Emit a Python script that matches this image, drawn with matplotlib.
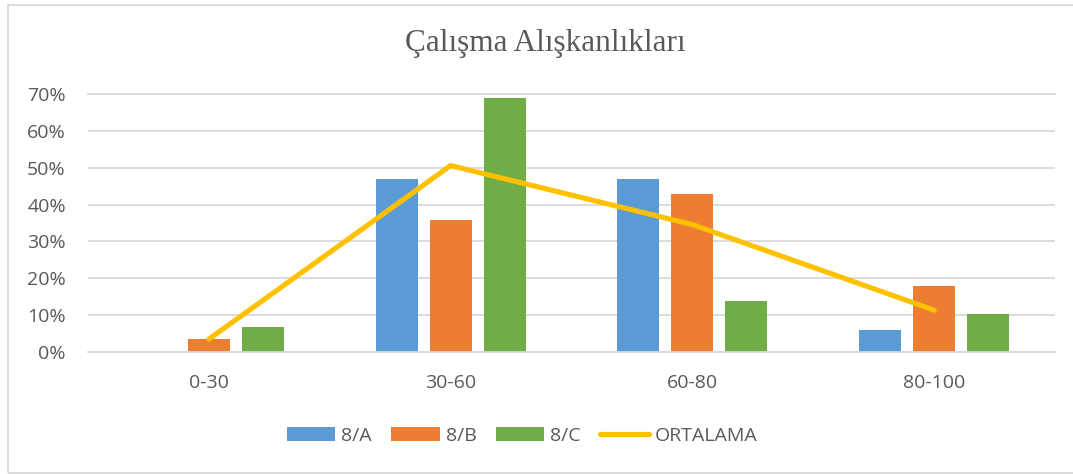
import numpy as np
import matplotlib.pyplot as plt
from matplotlib.patches import Rectangle

plt.rcParams['font.family'] = ['Open Sans', 'DejaVu Sans']

categories = ['0-30', '30-60', '60-80', '80-100']
sinif_a = [0.0, 0.4706, 0.4706, 0.0588]
sinif_b = [0.0357, 0.3571, 0.4286, 0.1786]
sinif_c = [0.0690, 0.6897, 0.1379, 0.1034]
ortalama = [0.0349, 0.5058, 0.3457, 0.1136]
yticks = [0.0, 0.1, 0.2, 0.3, 0.4, 0.5, 0.6, 0.7]
ytick_labels = ['0%', '10%', '20%', '30%', '40%', '50%', '60%', '70%']

W, H = 1073, 474
fig = plt.figure(figsize=(W / 100, H / 100), dpi=100)
ax = fig.add_axes([88 / W, (H - 352) / H, 967 / W, 258 / H])

# chart border
fig.patches.append(Rectangle((7.5 / W, 1.5 / H), 1.2, (H - 6) / H,
                             transform=fig.transFigure, fill=False,
                             edgecolor='#d9d9d9', linewidth=1.3))

x = np.arange(len(categories))
bw = 0.174
off = 0.2234
gray = '#595959'

ax.bar(x - off, sinif_a, bw, color='#5b9bd5', label='8/A', zorder=2)
ax.bar(x, sinif_b, bw, color='#ed7d31', label='8/B', zorder=2)
ax.bar(x + off, sinif_c, bw, color='#70ad47', label='8/C', zorder=2)
ax.plot(x, ortalama, color='#ffc000', lw=3.7, solid_capstyle='round',
        solid_joinstyle='miter', label='ORTALAMA', zorder=3)

ax.set_xlim(-0.5, len(categories) - 0.5)
ax.set_ylim(0, 0.7)
ax.set_yticks(yticks)
ax.set_yticklabels(ytick_labels)
ax.set_xticks(x)
ax.set_xticklabels(categories)
ax.tick_params(axis='both', length=0, labelsize=14, colors=gray)
ax.tick_params(axis='y', pad=16)
ax.tick_params(axis='x', pad=16)
ax.yaxis.grid(True, color='#d9d9d9', lw=1.3, zorder=0)
ax.set_axisbelow(True)
for s in ['top', 'right', 'left']:
    ax.spines[s].set_visible(False)
ax.spines['bottom'].set_color('#d9d9d9')
ax.spines['bottom'].set_linewidth(1.3)
ax.get_ygridlines()[-1].set_clip_on(False)

fig.text(545 / W, 1 - 43 / H, 'Çalışma Alışkanlıkları', ha='center', va='center',
         fontsize=22.5, color=gray, family='Liberation Serif')

h, l = ax.get_legend_handles_labels()
order = [1, 2, 3, 0]
handles = [h[i] for i in order]
labels = [l[i] for i in order]
leg = fig.legend(handles, labels, loc='center', bbox_to_anchor=(522 / W, 1 - 436 / H),
                 ncol=4, frameon=False, fontsize=14, handlelength=2.5,
                 handleheight=0.75, handletextpad=0.3, columnspacing=1.0,
                 labelcolor=gray)

fig.savefig('out.png', dpi=100)
